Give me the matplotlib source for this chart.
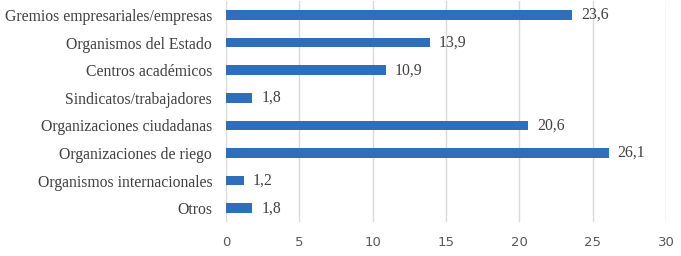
import numpy as np
import matplotlib.pyplot as plt

categories = ["Gremios empresariales/empresas", "Organismos del Estado", "Centros académicos",
              "Sindicatos/trabajadores", "Organizaciones ciudadanas", "Organizaciones de riego",
              "Organismos internacionales", "Otros"]
values = [23.6, 13.9, 10.9, 1.8, 20.6, 26.1, 1.2, 1.8]
xticks = [0, 5, 10, 15, 20, 25, 30]

fig = plt.figure(figsize=(6.81, 2.56), dpi=100)
ax = fig.add_axes([0.332, 0.133, 0.646, 0.862])

y = np.arange(len(categories))
ax.barh(y, values, height=0.35, color='#2F6EBA', zorder=3)
for yi, v in zip(y, values):
    ax.text(v + 0.6, yi, '{:.1f}'.format(v).replace('.', ','), va='center', ha='left',
            family='Liberation Serif', fontsize=11.3, color='#404040')

ax.set_yticks(y)
ax.set_yticklabels(categories, family='Liberation Serif', fontsize=11.3, color='#404040')
ax.set_ylim(len(categories) - 0.5, -0.5)
ax.set_xlim(0, 30)
ax.set_xticks(xticks)
ax.set_xticklabels([str(t) for t in xticks], fontsize=9.5, color='#595959')
ax.tick_params(axis='y', length=0, pad=10)
ax.tick_params(axis='x', length=0, pad=10)
ax.grid(axis='x', color='#D9D9D9', linewidth=1, zorder=0)
for s in ax.spines.values():
    s.set_visible(False)

fig.savefig('out.png', dpi=100)
